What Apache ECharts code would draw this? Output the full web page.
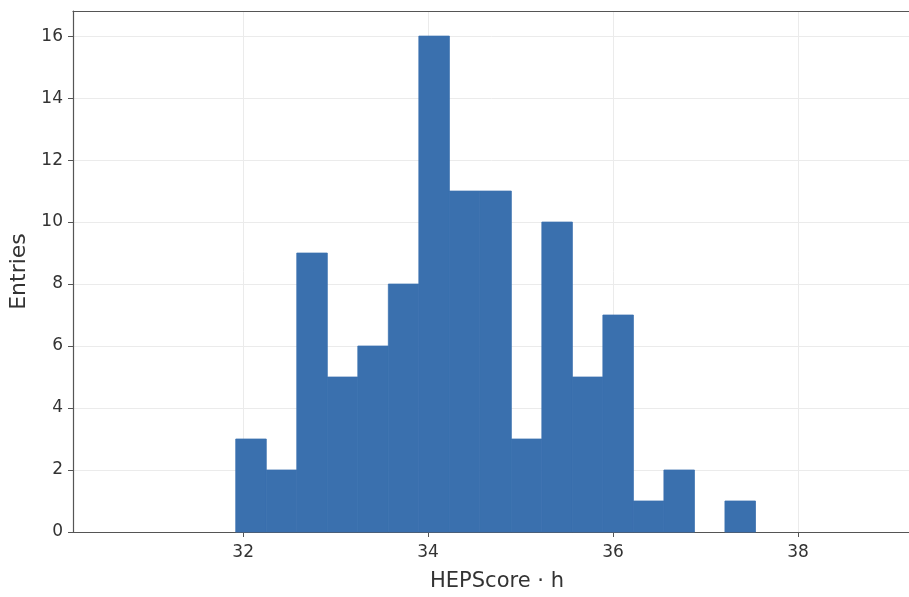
<!DOCTYPE html>
<html>
<head>
<meta charset="utf-8">
<script src="https://cdn.jsdelivr.net/npm/echarts@6/dist/echarts.min.js"></script>
<style>
  html, body { margin: 0; padding: 0; background: #fff; }
  #chart-box { width: 909px; height: 597px; }
</style>
</head>
<body>
<div id="chart-box"></div>
<script>
// bin edges and counts
var binEdges = [31.92, 32.25, 32.58, 32.91, 33.24, 33.57, 33.90, 34.23, 34.56,
                34.90, 35.23, 35.56, 35.89, 36.22, 36.55, 36.88, 37.21, 37.54];
var binCounts = [3, 2, 9, 5, 6, 8, 16, 11, 11, 3, 10, 5, 7, 1, 2, 0, 1];
var xTicks = [32, 34, 36, 38];
var yTicks = [0, 2, 4, 6, 8, 10, 12, 14, 16];

var histData = [];
for (var i = 0; i < binCounts.length; i++) {
  histData.push([binEdges[i], binEdges[i + 1], binCounts[i]]);
}

var myChart = echarts.init(document.getElementById('chart-box'));

var fontFam = 'DejaVu Sans';
var xMin = 30.16, xMax = 39.33;

var option = {
  animation: false,
  grid: {
    left: 73, top: 11, width: 848, height: 521,
    outerBoundsMode: 'none',
    containLabel: false
  },
  xAxis: [{
    type: 'value',
    min: xMin,
    max: xMax,
    name: 'HEPScore \u00b7 h',
    nameLocation: 'middle',
    nameGap: 39,
    nameTextStyle: { fontFamily: fontFam, fontSize: 21, color: '#333' },
    axisLine: { show: true, onZero: false, lineStyle: { color: '#555', width: 1.2 } },
    axisTick: { show: true, length: 5, customValues: xTicks, lineStyle: { color: '#555' } },
    axisLabel: { customValues: xTicks, fontFamily: fontFam, fontSize: 17, color: '#333', margin: 12 },
    splitLine: { show: true, lineStyle: { color: '#ebebeb', width: 1 } }
  }, {
    // top spine only
    type: 'value',
    position: 'top',
    min: xMin,
    max: xMax,
    axisLine: { show: true, onZero: false, lineStyle: { color: '#555', width: 1.2 } },
    axisTick: { show: false },
    axisLabel: { show: false },
    splitLine: { show: false }
  }],
  yAxis: {
    type: 'value',
    min: 0,
    max: 16.81,
    name: 'Entries',
    nameLocation: 'middle',
    nameGap: 43,
    nameRotate: 90,
    nameTextStyle: { fontFamily: fontFam, fontSize: 22, color: '#333' },
    axisLine: { show: true, lineStyle: { color: '#555', width: 1.2 } },
    axisTick: { show: true, length: 5, customValues: yTicks, lineStyle: { color: '#555' } },
    axisLabel: { customValues: yTicks, fontFamily: fontFam, fontSize: 17, color: '#333', margin: 10 },
    splitLine: { show: true, lineStyle: { color: '#ebebeb', width: 1 } }
  },
  series: [{
    type: 'custom',
    data: histData,
    encode: { x: [0, 1], y: 2 },
    renderItem: function (params, api) {
      if (api.value(2) <= 0) return null;
      var p0 = api.coord([api.value(0), api.value(2)]);
      var p1 = api.coord([api.value(1), 0]);
      return {
        type: 'rect',
        shape: { x: p0[0], y: p0[1], width: p1[0] - p0[0], height: p1[1] - p0[1] },
        style: { fill: '#3a70ae', stroke: '#3a70ae', lineWidth: 0.8 }
      };
    }
  }]
};

myChart.setOption(option);
</script>
</body>
</html>
